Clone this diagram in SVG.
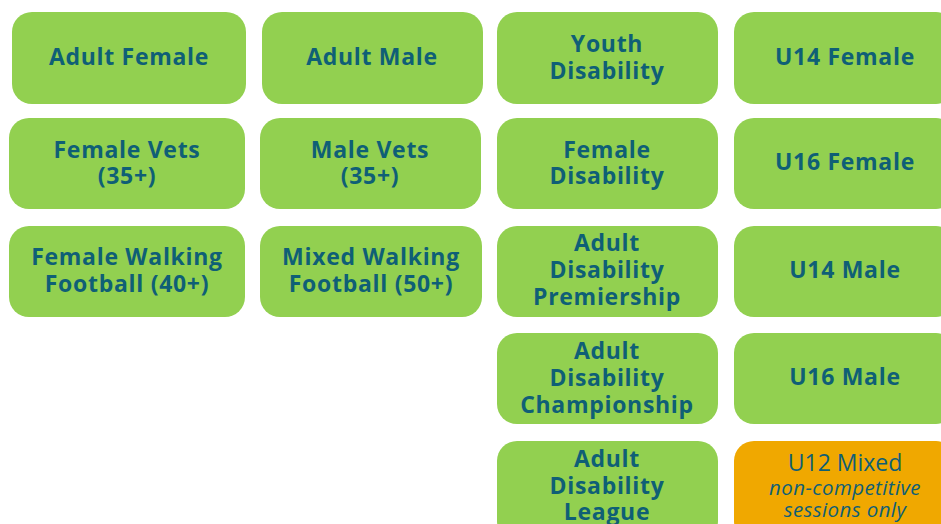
<svg xmlns="http://www.w3.org/2000/svg" width="941" height="524" viewBox="0 0 941 524">
<style>
.b{fill:#92D050;}
.o{fill:#F0A800;}
text{font-family:"Open Sans","Liberation Sans",sans-serif;fill:#0F5F76;text-anchor:middle;}
.t{font-weight:700;font-size:23px;letter-spacing:0.7px;}
.r{font-size:23px;}
.i{font-style:italic;font-size:20.5px;letter-spacing:0.4px;}
</style>
<rect width="941" height="524" fill="#ffffff"/>
<g id="adult-female"><rect class="b" x="12" y="12" width="234" height="92" rx="20"/><text class="t" x="129" y="65">Adult Female</text></g>
<g id="adult-male"><rect class="b" x="262" y="12" width="221" height="92" rx="20"/><text class="t" x="372" y="65">Adult Male</text></g>
<g id="youth-disability"><rect class="b" x="497" y="12" width="221" height="92" rx="20"/><text class="t" x="607" y="52">Youth</text><text class="t" x="607" y="79">Disability</text></g>
<g id="u14-female"><rect class="b" x="734" y="12" width="222" height="92" rx="20"/><text class="t" x="845" y="65">U14 Female</text></g>

<g id="female-vets"><rect class="b" x="9" y="118" width="236" height="91" rx="20"/><text class="t" x="127" y="158">Female Vets</text><text class="t" x="127" y="184">(35+)</text></g>
<g id="male-vets"><rect class="b" x="260" y="118" width="221" height="91" rx="20"/><text class="t" x="370" y="158">Male Vets</text><text class="t" x="370" y="184">(35+)</text></g>
<g id="female-disability"><rect class="b" x="497" y="118" width="221" height="91" rx="20"/><text class="t" x="607" y="158">Female</text><text class="t" x="607" y="184">Disability</text></g>
<g id="u16-female"><rect class="b" x="734" y="118" width="222" height="91" rx="20"/><text class="t" x="845" y="170">U16 Female</text></g>

<g id="female-walking"><rect class="b" x="9" y="226" width="236" height="91" rx="20"/><text class="t" x="127" y="265">Female Walking</text><text class="t" x="127" y="292">Football (40+)</text></g>
<g id="mixed-walking"><rect class="b" x="260" y="226" width="222" height="91" rx="20"/><text class="t" x="371" y="265">Mixed Walking</text><text class="t" x="371" y="292">Football (50+)</text></g>
<g id="adult-disability-premiership"><rect class="b" x="497" y="226" width="221" height="91" rx="20"/><text class="t" x="607" y="251">Adult</text><text class="t" x="607" y="278">Disability</text><text class="t" x="607" y="305">Premiership</text></g>
<g id="u14-male"><rect class="b" x="734" y="226" width="222" height="91" rx="20"/><text class="t" x="845" y="278">U14 Male</text></g>

<g id="adult-disability-championship"><rect class="b" x="497" y="333" width="221" height="91" rx="20"/><text class="t" x="607" y="359">Adult</text><text class="t" x="607" y="386">Disability</text><text class="t" x="607" y="413">Championship</text></g>
<g id="u16-male"><rect class="b" x="734" y="333" width="222" height="91" rx="20"/><text class="t" x="845" y="385">U16 Male</text></g>

<g id="adult-disability-league"><rect class="b" x="497" y="441" width="221" height="100" rx="20"/><text class="t" x="607" y="467">Adult</text><text class="t" x="607" y="494">Disability</text><text class="t" x="607" y="520">League</text></g>
<g id="u12-mixed"><rect class="o" x="734" y="441" width="222" height="100" rx="20"/><text class="r" x="845" y="471">U12 Mixed</text><text class="i" x="845" y="495">non-competitive</text><text class="i" x="845" y="517">sessions only</text></g>
<g id="connectors"></g>
</svg>
